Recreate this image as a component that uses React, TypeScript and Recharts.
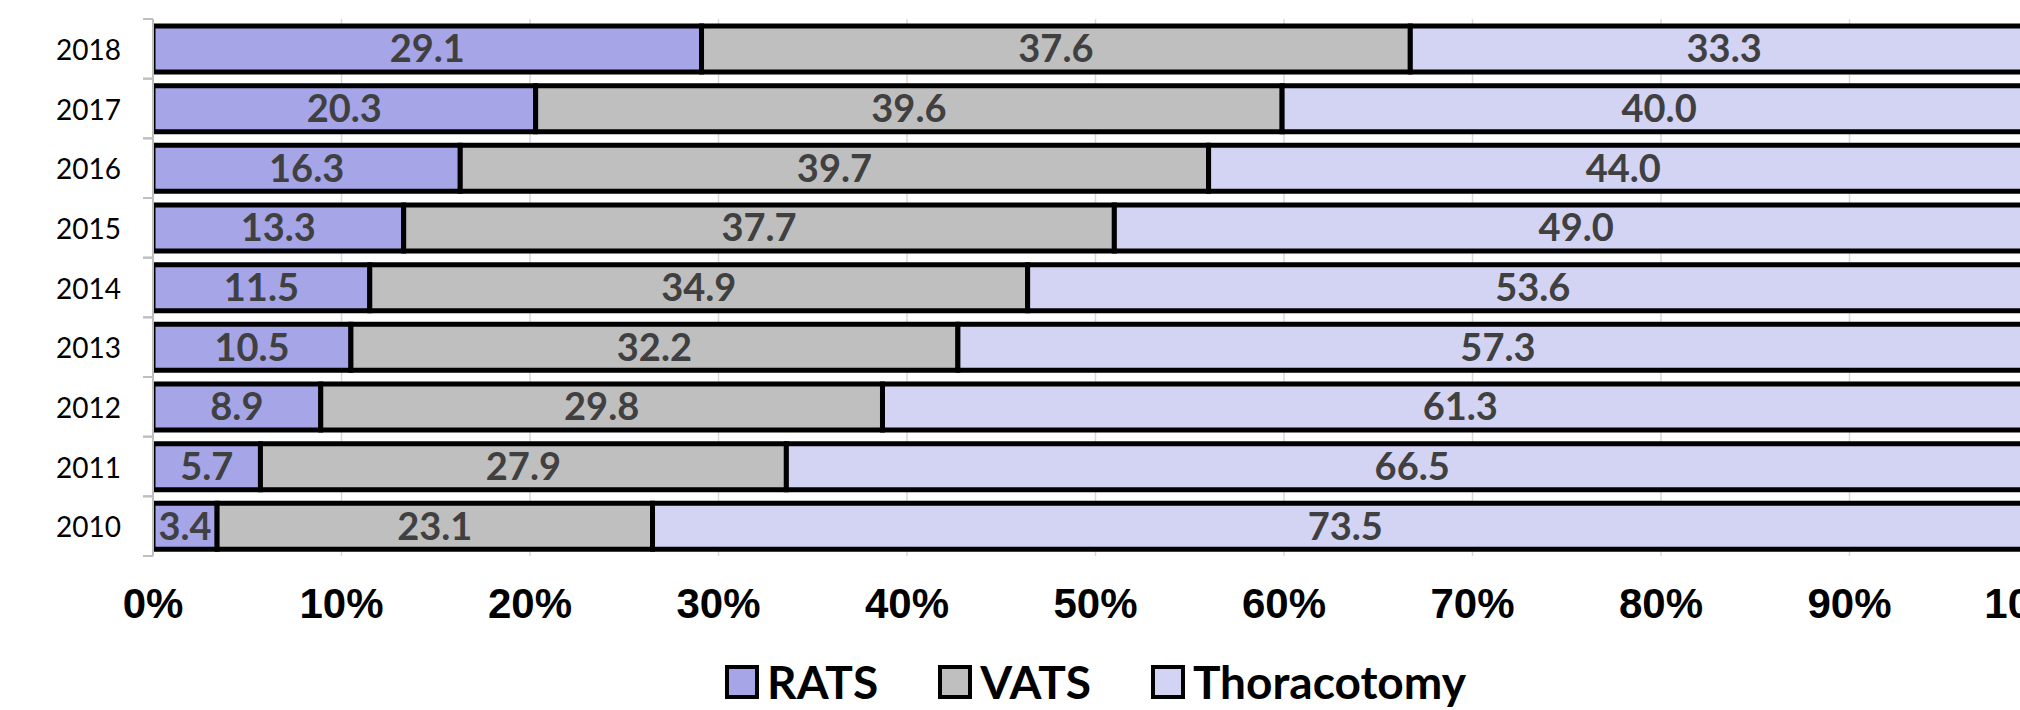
import { BarChart, Bar, XAxis, YAxis, CartesianGrid, LabelList, Legend } from "recharts";

const years = ["2018", "2017", "2016", "2015", "2014", "2013", "2012", "2011", "2010"];
const rats = [29.1, 20.3, 16.3, 13.3, 11.5, 10.5, 8.9, 5.7, 3.4];
const vats = [37.6, 39.6, 39.7, 37.7, 34.9, 32.2, 29.8, 27.9, 23.1];
const thoracotomy = [33.3, 40.0, 44.0, 49.0, 53.6, 57.3, 61.3, 66.5, 73.5];
const percentTicks = [0, 10, 20, 30, 40, 50, 60, 70, 80, 90, 100];

const series = [
  { key: "RATS", values: rats, colour: "#A5A5E8" },
  { key: "VATS", values: vats, colour: "#BFBFBF" },
  { key: "Thoracotomy", values: thoracotomy, colour: "#D3D3F3" },
];

const data = years.map((year, i) => {
  const row: Record<string, string | number> = { year };
  series.forEach((s) => (row[s.key] = s.values[i]));
  return row;
});

// chart box is wider than the page; the right end gets clipped like the original
const W = 2100;
const H = 710;
const MARGIN = { top: 19, right: 62, bottom: 0, left: 0 };
const Y_WIDTH = 153;
const X_HEIGHT = 104;
const LEGEND_H = 50;
const BAND = (H - MARGIN.top - MARGIN.bottom - X_HEIGHT - LEGEND_H) / years.length;

const TEXT_FONT = "Lato, 'Open Sans', sans-serif";

function YearTick(props: any) {
  const { x, y, payload } = props;
  const axisX = x + 32;
  const half = BAND / 2;
  return (
    <g>
      <line x1={axisX - 10} x2={axisX} y1={y - half} y2={y - half} stroke="#BFBFBF" strokeWidth={2} />
      <line x1={axisX - 10} x2={axisX} y1={y + half} y2={y + half} stroke="#BFBFBF" strokeWidth={2} />
      <text
        x={x}
        y={y}
        textAnchor="end"
        dominantBaseline="central"
        fontFamily={TEXT_FONT}
        fontSize={28}
        fill="#000"
      >
        {payload.value}
      </text>
    </g>
  );
}

function LegendBox() {
  return (
    <div
      style={{
        height: LEGEND_H,
        display: "flex",
        justifyContent: "center",
        alignItems: "flex-start",
        gap: 60,
        fontFamily: TEXT_FONT,
        fontWeight: 700,
        fontSize: 46,
        color: "#000",
      }}
    >
      {series.map((s) => (
        <div key={s.key} style={{ display: "flex", alignItems: "center", gap: 8, height: 44 }}>
          <span
            style={{
              display: "inline-block",
              width: 26,
              height: 26,
              border: "4px solid #000",
              background: s.colour,
            }}
          />
          <span style={{ lineHeight: "44px" }}>{s.key}</span>
        </div>
      ))}
    </div>
  );
}

export default function App() {
  return (
    <div
      style={{
        position: "absolute",
        left: 0,
        top: 0,
        width: 2020,
        height: 710,
        overflow: "hidden",
        background: "#fff",
      }}
    >
      <BarChart width={W} height={H} data={data} layout="vertical" margin={MARGIN} barSize={46}>
        <CartesianGrid horizontal={false} stroke="#D9D9D9" strokeWidth={1.5} />
        <XAxis
          type="number"
          domain={[0, 100]}
          allowDataOverflow
          ticks={percentTicks}
          tickFormatter={(v) => `${v}%`}
          axisLine={false}
          tickLine={false}
          tickSize={0}
          tickMargin={32}
          height={X_HEIGHT}
          tick={{ fontFamily: "'Liberation Sans', Arial, sans-serif", fontWeight: 700, fontSize: 42, fill: "#000" }}
        />
        <YAxis
          type="category"
          dataKey="year"
          width={Y_WIDTH}
          axisLine={{ stroke: "#BFBFBF", strokeWidth: 2 }}
          tickLine={false}
          tickSize={0}
          tickMargin={32}
          tick={<YearTick />}
        />
        <Legend verticalAlign="bottom" height={LEGEND_H} wrapperStyle={{ left: Y_WIDTH, width: W - Y_WIDTH - MARGIN.right }} content={<LegendBox />} />
        {series.map((s) => (
          <Bar
            key={s.key}
            dataKey={s.key}
            stackId="share"
            fill={s.colour}
            stroke="#000"
            strokeWidth={5}
            isAnimationActive={false}
          >
            <LabelList
              dataKey={s.key}
              position="center"
              formatter={(v: any) => Number(v).toFixed(1)}
              fill="#404040"
              fontFamily={TEXT_FONT}
              fontWeight={700}
              fontSize={38}
            />
          </Bar>
        ))}
      </BarChart>
    </div>
  );
}
